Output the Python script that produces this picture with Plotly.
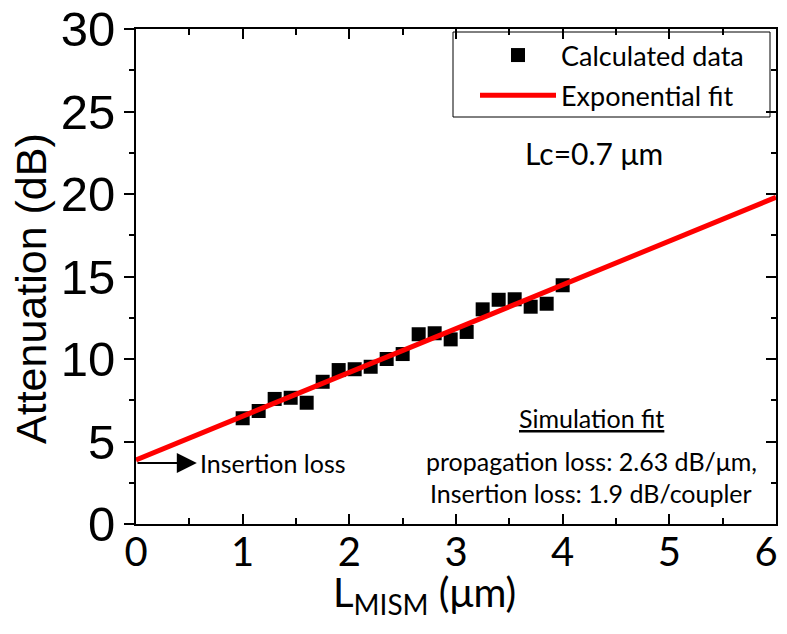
import plotly.graph_objects as go

# Data
x_mism = [1.0, 1.15, 1.3, 1.45, 1.6, 1.75, 1.9, 2.05, 2.2, 2.35, 2.5,
          2.65, 2.8, 2.95, 3.1, 3.25, 3.4, 3.55, 3.7, 3.85, 4.0]
attenuation = [6.41, 6.85, 7.58, 7.65, 7.35, 8.62, 9.33, 9.38, 9.53, 10.0, 10.3,
               11.5, 11.56, 11.19, 11.64, 13.01, 13.59, 13.62, 13.17, 13.35, 14.47]
fit_x = [0, 6]
fit_y = [3.88, 19.8]

x_ticks = [0, 1, 2, 3, 4, 5, 6]
x_ticktext = ["0", "1", "2", "3", "4", "5", "6\u2002"]
y_ticks = [0, 5, 10, 15, 20, 25, 30]

CAL = "Lato, 'Open Sans', sans-serif"
ARI = "'Liberation Sans', Arial, sans-serif"

# plot area on screen (page has 8px body margin): x 136..776, y 29..524
def px(xp):
    return (xp - 136) / 640.0

def py(yp):
    return (524 - yp) / 495.0

fig = go.Figure()
fig.add_trace(go.Scatter(
    x=x_mism, y=attenuation, mode="markers", name="Calculated data",
    legendgroup="a",
    marker=dict(symbol="square", size=14, color="black"),
    xaxis="x", yaxis="y"))
fig.add_trace(go.Scatter(
    x=fit_x, y=fit_y, mode="lines", name="Exponential fit",
    legendgroup="b",
    line=dict(color="#ff0000", width=5),
    xaxis="x", yaxis="y2"))

axis_common = dict(showgrid=False, zeroline=False, linecolor="black",
                   linewidth=2, tickcolor="black", tickwidth=2, automargin=False,
                   ticklabeloverflow="allow")

fig.update_layout(
    width=771, height=618,
    margin=dict(l=128, r=3, t=21, b=102, autoexpand=False),
    paper_bgcolor="white", plot_bgcolor="white",
    showlegend=True,
    legend=dict(x=px(475), xanchor="left", y=py(31), yanchor="top",
                borderwidth=0, bgcolor="rgba(0,0,0,0)",
                traceorder="grouped", tracegroupgap=2,
                font=dict(family=CAL, size=27, color="black"),
                itemwidth=76),
    xaxis=dict(range=[0, 6], tickvals=x_ticks, ticktext=x_ticktext,
               ticks="inside", ticklen=10,
               showline=True, mirror="ticks", ticklabelstandoff=-8,
               minor=dict(ticks="inside", ticklen=6, dtick=0.5,
                          tickcolor="black", tickwidth=2),
               tickfont=dict(family=CAL, size=40, color="black"),
               **axis_common),
    yaxis=dict(range=[0, 30], tickvals=y_ticks, ticks="outside", ticklen=10,
               showline=True, mirror=True, ticklabelstandoff=-1,
               minor=dict(ticks="outside", ticklen=5, dtick=2.5,
                          tickcolor="black", tickwidth=2),
               tickfont=dict(family=ARI, size=49, color="black"),
               **axis_common),
    yaxis2=dict(range=[0, 30], tickvals=y_ticks, ticks="inside", ticklen=10,
                overlaying="y", side="right", showline=False,
                showticklabels=False, automargin=False,
                minor=dict(ticks="inside", ticklen=5, dtick=2.5,
                           tickcolor="black", tickwidth=2),
                showgrid=False, zeroline=False, tickcolor="black", tickwidth=2),
    shapes=[dict(type="rect", xref="paper", yref="paper",
                 x0=px(453), x1=px(770), y0=py(117), y1=py(32),
                 line=dict(color="black", width=1), fillcolor="white",
                 layer="below")],
)

annotations = [
    dict(text="Attenuation (dB)", xref="paper", yref="paper",
         x=px(31), y=py(289), textangle=-90, showarrow=False,
         font=dict(family=ARI, size=43, color="black"),
         xanchor="center", yanchor="middle"),
    dict(text="L<sub>MISM</sub> (μm)", xref="paper", yref="paper",
         x=px(424), y=py(594), showarrow=False,
         font=dict(family=CAL, size=40, color="black"),
         xanchor="center", yanchor="middle"),
    dict(text="Lc=0.7 μm", xref="x", yref="y", x=4.29, y=22.5,
         showarrow=False, font=dict(family=CAL, size=30, color="black")),
    dict(text="<u>Simulation fit</u>", xref="x", yref="y", x=4.266, y=6.42,
         showarrow=False, font=dict(family=CAL, size=25, color="black")),
    dict(text="propagation loss: 2.63 dB/μm,", xref="x", yref="y", x=4.266, y=3.82,
         showarrow=False, font=dict(family=CAL, size=25, color="black")),
    dict(text="Insertion loss: 1.9 dB/coupler", xref="x", yref="y", x=4.266, y=1.88,
         showarrow=False, font=dict(family=CAL, size=25, color="black")),
    dict(text="", xref="x", yref="y", x=0.57, y=3.7, axref="x", ayref="y",
         ax=0, ay=3.7, showarrow=True, arrowhead=2, arrowsize=2,
         arrowwidth=2, arrowcolor="black", standoff=0, startstandoff=0),
    dict(text="Insertion loss", xref="x", yref="y", x=0.58, y=3.7,
         xanchor="left", yanchor="middle", showarrow=False,
         font=dict(family=CAL, size=25, color="black")),
]
fig.update_layout(annotations=annotations)

fig.write_html("out.html")
